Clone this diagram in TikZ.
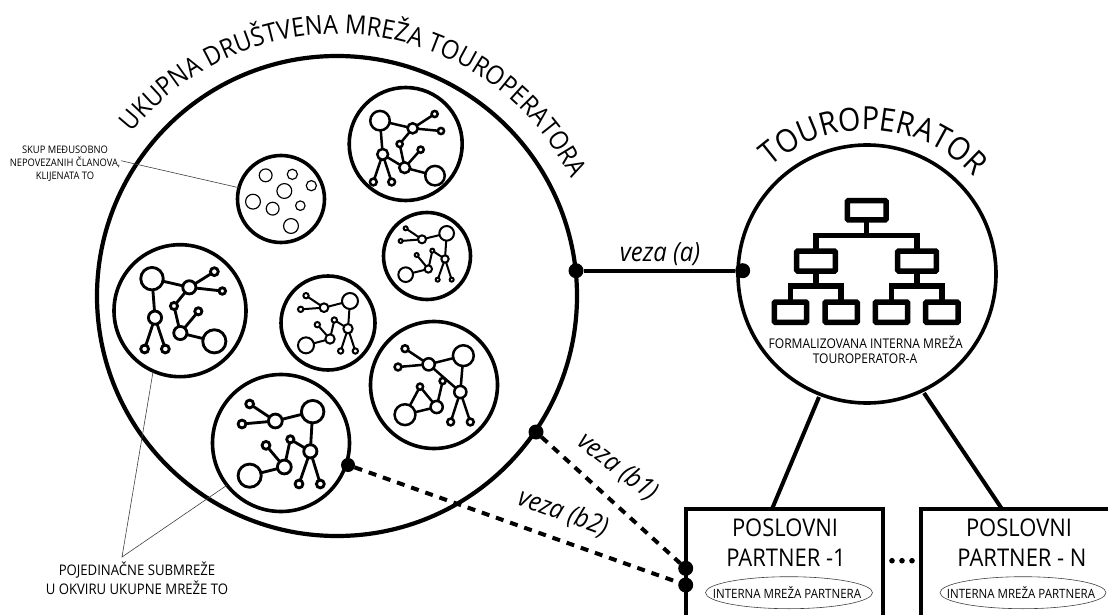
\documentclass[tikz,border=0pt]{standalone}
\usepackage{fontspec}
\setmainfont[FakeStretch=0.9]{Open Sans}
\usetikzlibrary{decorations.text,shapes.geometric}
\tikzset{
  netnode/.style={circle,draw=black,fill=white,inner sep=0pt,outer sep=0pt},
  hub/.style={circle,draw=black,fill=white,inner sep=0pt,outer sep=0pt,line width=3.6pt},
  bighub/.style={circle,draw=black,fill=white,inner sep=0pt,outer sep=0pt,line width=4.2pt},
  joint/.style={circle,fill=black,inner sep=0pt,outer sep=0pt},
  leader/.style={line width=0.6pt,draw=black!75},
  solidlink/.style={line width=4pt},
  dashlink/.style={line width=4pt,dash pattern=on 8pt off 7pt},
  orgbox/.style={draw=black,line width=5.5pt,rounded corners=1pt,fill=white,inner sep=0pt,outer sep=0pt},
  orgline/.style={line width=5.5pt,line join=miter},
  partner/.style={line width=4.4pt,line join=miter},
  plabel/.style={inner sep=0pt,font=\fontsize{24.4}{24.4}\selectfont},
  ringlabel/.style={ellipse,draw=black!75,line width=0.6pt,inner sep=0pt,outer sep=0pt},
  ringtext/.style={inner sep=0pt,font=\fontsize{12.8}{12.8}\selectfont},
  veza/.style={inner sep=0pt,font=\fontsize{26.5}{26.5}\selectfont\itshape},
  smalltxt/.style={inner sep=0pt,align=center},
}
% origin, prefix, stroke in zoomed pixels, nodes, edges
\newcommand{\netgraph}[5]{%
  \begin{scope}[shift={#1},x=0.33333pt,y=-0.33333pt]
    \pgfmathsetmacro\nw{#3/3}
    \foreach \nid/\nx/\ny/\nr in {#4}{%
      \pgfmathsetmacro\nd{2*(\nr-#3*0.5)/3}
      \node[netnode,line width=\nw pt,minimum size=\nd pt] (#2-\nid) at (\nx,\ny) {};
    }
    \foreach \ea/\eb in {#5}{\draw[line width=\nw pt] (#2-\ea) -- (#2-\eb);}
  \end{scope}}
\begin{document}
\begin{tikzpicture}[x=1pt,y=-1pt]
\useasboundingbox (0,0) rectangle (1108,615);
% main circles
\node[bighub,minimum size=480pt] (big) at (337,296) {};
\node[hub,minimum size=258pt] (to) at (867,274) {};
% curved titles
\coordinate (bigc) at (337,296);
\coordinate (toc) at (867,274);
\path[decorate,decoration={text along path,text align=center,
  text={|\fontsize{26.2}{26.2}\selectfont|UKUPNA DRUŠTVENA MREŽA  TOUROPERATORA}}]
  ([shift={(141:262pt)}]bigc) arc[start angle=141,end angle=27,radius=262pt];
\path[decorate,decoration={text along path,text align=center,
  text={|\fontsize{32}{32}\selectfont|TOUROPERATOR}}]
  ([shift={(132:144pt)}]toc) arc[start angle=132,end angle=42,radius=144pt];
% sub-networks
\node[hub,minimum size=87pt] (c1) at (281,199) {};
\node[hub,minimum size=113pt] (c2) at (405.7,144) {};
\node[hub,minimum size=87pt] (c3) at (427,256) {};
\node[hub,minimum size=132pt] (c4) at (180,310.7) {};
\node[hub,minimum size=94pt] (c5) at (328,323) {};
\node[hub,minimum size=137pt] (c6) at (281,443) {};
\node[hub,minimum size=127pt] (c7) at (434,385) {};
% free members
\netgraph{(100,90)}{m}{3.5}{a/497/256/21,b/577/253/17,c/634/287/17,d/553/303/24,e/459/335/24,f/518/356/21,g/601/347/16,h/573/408/24}{}
\netgraph{(100,0)}{n2}{7.5}{1/840/362/33,2/938/385/19,3/1004/342/13,4/1023/393/13,5/899/432/13,6/962/449/13,7/848/463/20,8/914/503/20,9/1005/527/33,10/820/546/14,11/875/546/14}{1/2,2/3,2/4,2/5,1/7,5/8,8/6,7/8,8/9,7/10,7/11}
\netgraph{(360,180)}{n3}{6}{1/260/160/25,2/186/178/15,3/137/145/9,4/122/183/9,5/170/225/9,6/217/212/9,7/255/237/14,8/205/267/14,9/137/284/25,10/233/299/9,11/275/299/9}{1/2,2/3,2/4,1/7,5/8,6/8,6/7,8/9,7/10,7/11}
\netgraph{(100,240)}{n4}{8.5}{1/156/116/38,2/268/142/24,3/343/95/16,4/367/153/14,5/222/198/15,6/295/214/15,7/165/233/24,8/241/279/24,9/343/304/39,10/134/327/16,11/196/327/16}{1/2,2/3,2/4,2/5,1/7,5/8,8/6,8/9,7/10,7/11}
\netgraph{(100,240)}{n5}{6}{1/750/183/27,2/672/203/16,3/618/167/11,4/602/208/11,5/652/254/11,6/703/240/11,7/744/266/17,8/690/297/17,9/618/316/27,10/722/333/11,11/766/333/11}{1/2,2/3,2/4,1/7,5/8,6/8,6/7,8/9,7/10,7/11}
\netgraph{(100,240)}{n6}{8.5}{1/638/515/38,2/526/543/25,3/449/492/16,4/426/552/16,5/498/616/16,6/571/598/15,7/631/634/24,8/553/681/25,9/449/707/39,10/597/732/16,11/661/732/16}{1/2,2/3,2/4,1/7,5/8,6/8,6/7,8/9,7/10,7/11}
\netgraph{(360,180)}{n7}{7.5}{1/310/527/35,2/206/553/22,3/135/506/14,4/114/561/14,5/180/620/13,6/248/603/13,7/301/636/22,8/230/681/22,9/135/704/35,10/272/726/14,11/331/726/14}{1/2,2/3,2/4,2/7,1/7,5/8,6/8,5/9,8/9,7/10,7/11}
% joints
\node[joint,minimum size=15pt] (ja) at (576,270.7) {};
\node[joint,minimum size=15pt] (jto) at (742.7,270.7) {};
\node[joint,minimum size=15pt] (jb1) at (536,432) {};
\node[joint,minimum size=14pt] (jb2) at (348,465) {};
\node[joint,minimum size=15pt] (jp1) at (685.7,568.3) {};
\node[joint,minimum size=15pt] (jp2) at (685.7,585) {};
% organisation chart
\coordinate (oh1) at (866.7,235.7);
\coordinate (oh2) at (816,286);
\coordinate (oh3) at (917,286);
\node[orgbox,minimum width=38.7pt,minimum height=19.3pt] (o1) at (866.7,210.3) {};
\node[orgbox,minimum width=38.7pt,minimum height=20pt] (o2) at (816,261) {};
\node[orgbox,minimum width=38.7pt,minimum height=20pt] (o3) at (917,261) {};
\node[orgbox,minimum width=32.4pt,minimum height=20.3pt] (o4) at (790.5,312.2) {};
\node[orgbox,minimum width=32.4pt,minimum height=20.3pt] (o5) at (841.2,312.2) {};
\node[orgbox,minimum width=32.4pt,minimum height=20.3pt] (o6) at (891.5,312.2) {};
\node[orgbox,minimum width=32.4pt,minimum height=20.3pt] (o7) at (941.8,312.2) {};
\draw[orgline] (o1) -- (oh1);
\draw[orgline] (o2.north) |- (oh1) -| (o3.north);
\draw[orgline] (o2.south) -- (oh2);
\draw[orgline] (o3.south) -- (oh3);
\draw[orgline] (o4.north) |- (oh2) -| (o5.north);
\draw[orgline] (o6.north) |- (oh3) -| (o7.north);
\node[inner sep=0pt,font=\fontsize{13.4}{13.4}\selectfont] (ot1) at (865.7,342) {FORMALIZOVANA INTERNA MREŽA};
\node[inner sep=0pt,font=\fontsize{13.4}{13.4}\selectfont] (ot2) at (865,358.7) {TOUROPERATOR-A};
% partners
\coordinate (p1bl) at (686,617);
\coordinate (p1tl) at (686,509);
\coordinate (p1tr) at (882.7,509);
\coordinate (p1br) at (882.7,617);
\coordinate (p2bl) at (921,617);
\coordinate (p2tl) at (921,509);
\coordinate (p2tr) at (1110,509);
\draw[partner] (p1bl) -- (p1tl) -- (p1tr) -- (p1br);
\draw[partner] (p2bl) -- (p2tl) -- (p2tr);
\node[plabel] (p1a) at (785,527.7) {POSLOVNI};
\node[plabel] (p1b) at (786,558) {PARTNER -1};
\node[plabel] (p2a) at (1019,527.7) {POSLOVNI};
\node[plabel] (p2b) at (1022,558) {PARTNER - N};
\node[ringlabel,minimum width=167pt,minimum height=32pt] (e1) at (789,592.7) {};
\node[ringlabel,minimum width=166pt,minimum height=32pt] (e2) at (1023,592.7) {};
\node[ringtext] (e1t) at (787,593) {INTERNA MREŽA PARTNERA};
\node[ringtext] (e2t) at (1021,593) {INTERNA MREŽA PARTNERA};
\node[joint,minimum size=5.6pt] (d1) at (892,560.7) {};
\node[joint,minimum size=5.6pt] (d2) at (902,560.7) {};
\node[joint,minimum size=5.6pt] (d3) at (912,560.7) {};
% connectors
\draw[solidlink] (ja) -- (jto);
\coordinate (pa) at (819,397);
\coordinate (pb) at (772,509);
\coordinate (pc) at (924,393);
\coordinate (pd) at (1002,509);
\draw[solidlink] (pa) -- (pb);
\draw[solidlink] (pc) -- (pd);
\draw[dashlink] (jb1) -- (jp1);
\draw[dashlink] (jb2) -- (jp2);
\node[veza] (la) at (660,254) {veza (a)};
\node[veza,rotate=-37.5] (lb1) at (618,467) {veza (b1)};
\node[veza,rotate=-20] (lb2) at (563,513) {veza (b2)};
% labels and leaders
\node[smalltxt,font=\fontsize{10.4}{13}\selectfont] (tl) at (65,164) {SKUP MEĐUSOBNO\\NEPOVEZANIH ČLANOVA,\\KLIJENATA TO};
\coordinate (tls) at (121,160.7);
\draw[leader] (tls) -- (c1.165);
\coordinate (tip) at (122,557);
\draw[leader] (c4.246) -- (tip) -- (c6.218);
\node[smalltxt,font=\fontsize{14.6}{19.5}\selectfont] (bl) at (137,578.5) {POJEDINAČNE SUBMREŽE\\U OKVIRU UKUPNE MREŽE TO};
\end{tikzpicture}
\end{document}
